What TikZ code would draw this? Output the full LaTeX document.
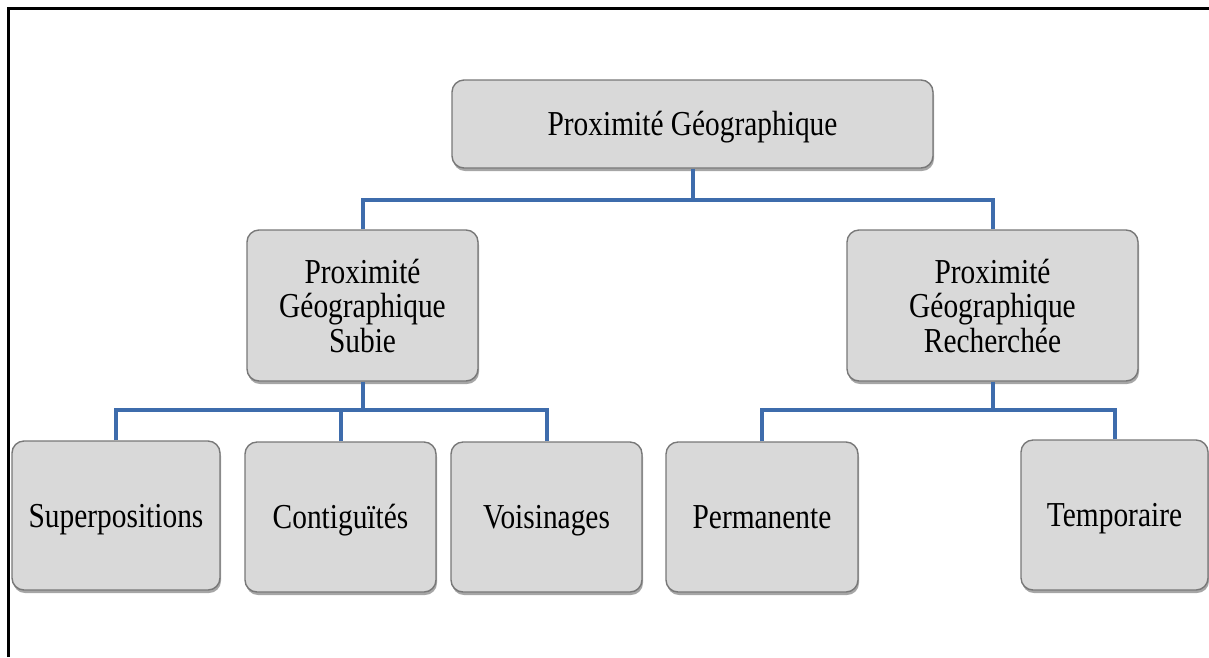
\documentclass[tikz,border=0pt]{standalone}
\usepackage{fontspec}
\setmainfont[FakeStretch=0.84]{Liberation Serif}
\usetikzlibrary{shadows}
\definecolor{boxfill}{RGB}{217,217,217}
\definecolor{boxline}{RGB}{120,120,120}
\definecolor{conncol}{RGB}{62,108,172}
\tikzset{
  catbox/.style={draw=boxline, line width=1.4pt, fill=boxfill, rounded corners=12pt,
    inner sep=0pt, align=center, text=black,
    font=\fontsize{35}{34.5}\selectfont,
    drop shadow={shadow xshift=1pt, shadow yshift=-3pt, opacity=0.35, fill=black}},
  oneline/.style={text height=31pt, text depth=8pt},
  conn/.style={draw=conncol, line width=4pt},
  frameline/.style={draw=black, line width=3.5pt}
}
\begin{document}
\begin{tikzpicture}[x=1pt,y=-1pt]
\useasboundingbox (0,0) rectangle (1209,657);
\fill[white] (0,0) rectangle (1209,657);
% frame
\coordinate (f1) at (8.5,657);
\coordinate (f2) at (8.5,8.5);
\coordinate (f3) at (1209,8.5);
\draw[frameline] (f1) -- (f2) -- (f3);
% bus coordinates
\coordinate (b1) at (692.5,200);
\coordinate (b2) at (362.5,410);
\coordinate (b3) at (992.5,410);
\node[catbox, oneline, minimum width=481pt, minimum height=88pt] (top) at (692.5,124) {Proximité Géographique};
\node[catbox, minimum width=231pt, minimum height=151pt] (subie) at (362.5,305.5) {Proximité\\Géographique\\Subie};
\node[catbox, minimum width=291pt, minimum height=151pt] (rech) at (992.5,305.5) {Proximité\\Géographique\\Recherchée};
\node[catbox, oneline, minimum width=208pt, minimum height=149pt] (sup) at (116,515.5) {Superpositions};
\node[catbox, oneline, minimum width=191pt, minimum height=150pt] (cont) at (340.5,517) {Contiguïtés};
\node[catbox, oneline, minimum width=191pt, minimum height=150pt] (vois) at (546.5,517) {Voisinages};
\node[catbox, oneline, minimum width=192pt, minimum height=150pt] (perm) at (762,517) {Permanente};
\node[catbox, oneline, minimum width=187pt, minimum height=150pt] (temp) at (1114.5,515) {Temporaire};
\draw[conn] (top.south) -- (b1);
\draw[conn] (subie.north) |- (b1);
\draw[conn] (rech.north) |- (b1);
\draw[conn] (subie.south) -- (b2);
\draw[conn] (sup.north) |- (b2);
\draw[conn] (cont.north) |- (b2);
\draw[conn] (vois.north) |- (b2);
\draw[conn] (rech.south) -- (b3);
\draw[conn] (perm.north) |- (b3);
\draw[conn] (temp.north) |- (b3);
\end{tikzpicture}
\end{document}
